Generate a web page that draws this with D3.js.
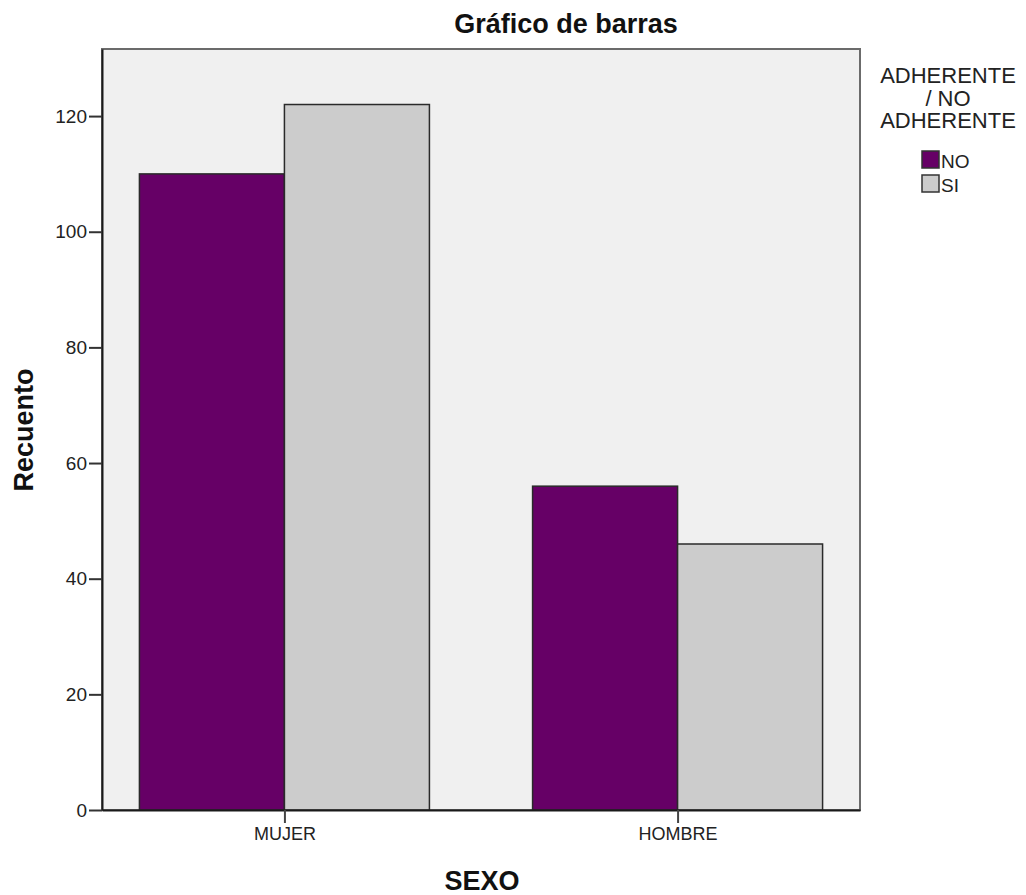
<!DOCTYPE html>
<html><head><meta charset="utf-8">
<script src="https://cdn.jsdelivr.net/npm/d3@7"></script>
<style>body{margin:0;background:#fff}svg{display:block}text{font-family:"Liberation Sans",Arial,sans-serif}</style>
</head><body>
<script>
const categories = ["MUJER", "HOMBRE"];
const seriesNames = ["NO", "SI"];
const valuesNO = [110, 56];
const valuesSI = [122, 46];
const yTicks = [0, 20, 40, 60, 80, 100, 120];
const seriesColors = ["#660066", "#cccccc"];
const legendTitle = ["ADHERENTE", "/ NO", "ADHERENTE"];

const W = 1026, H = 895;
const plot = {l: 102, r: 860, t: 49, b: 810};
const svg = d3.select("body").append("svg").attr("width", W).attr("height", H);

const x = d3.scalePoint().domain(categories).range([plot.l, plot.r]).padding(0.464);
const xs = d3.scaleBand().domain(seriesNames).range([-145, 145]).padding(0);
const y = d3.scaleLinear().domain([0, 131.6]).range([plot.b, plot.t]);

svg.append("rect").attr("x", plot.l).attr("y", plot.t).attr("width", plot.r - plot.l).attr("height", plot.b - plot.t)
  .attr("fill", "#f0f0f0").attr("stroke", "#6b6b6b").attr("stroke-width", 2);

const data = categories.map((c, i) => ({cat: c, vals: [{s: "NO", v: valuesNO[i]}, {s: "SI", v: valuesSI[i]}]}));
const g = svg.append("g");
data.forEach(d => {
  d.vals.forEach((e, j) => {
    g.append("rect")
      .attr("x", x(d.cat) + xs(e.s)).attr("y", y(e.v))
      .attr("width", xs.bandwidth()).attr("height", y(0) - y(e.v))
      .attr("fill", seriesColors[j]).attr("stroke", "#2a2a2a").attr("stroke-width", 1.5);
  });
});

// axes
const yAxis = d3.axisLeft(y).tickValues(yTicks).tickSize(13).tickSizeOuter(0).tickPadding(2);
const ya = svg.append("g").attr("transform", `translate(${plot.l},0)`).call(yAxis);
ya.select(".domain").attr("stroke", "#1a1a1a").attr("stroke-width", 2);
ya.selectAll(".tick line").attr("stroke", "#333").attr("stroke-width", 2);
ya.selectAll(".tick text").attr("font-size", 19).attr("fill", "#222").attr("font-family", "Liberation Sans, Arial, sans-serif");

const xAxis = d3.axisBottom(x).tickSize(13).tickSizeOuter(0).tickPadding(4);
const xa = svg.append("g").attr("transform", `translate(0,${plot.b})`).call(xAxis);
xa.select(".domain").attr("stroke", "#1a1a1a").attr("stroke-width", 2);
xa.selectAll(".tick line").attr("stroke", "#444").attr("stroke-width", 2);
xa.selectAll(".tick text").attr("font-size", 18).attr("fill", "#222").attr("font-family", "Liberation Sans, Arial, sans-serif");

// titles
svg.append("text").attr("x", 566).attr("y", 33).attr("text-anchor", "middle")
  .attr("font-size", 27).attr("font-weight", "bold").attr("fill", "#111").text("Gráfico de barras");
svg.append("text").attr("x", 482).attr("y", 890).attr("text-anchor", "middle")
  .attr("font-size", 27).attr("font-weight", "bold").attr("fill", "#111").text("SEXO");
svg.append("text").attr("transform", "translate(33,430) rotate(-90)").attr("text-anchor", "middle")
  .attr("font-size", 27).attr("font-weight", "bold").attr("fill", "#111").text("Recuento");

// legend
legendTitle.forEach((t, i) => {
  svg.append("text").attr("x", 948).attr("y", 83 + i * 22.5).attr("text-anchor", "middle")
    .attr("font-size", 22).attr("fill", "#222").text(t);
});
seriesNames.forEach((s, i) => {
  svg.append("rect").attr("x", 922).attr("y", 151 + i * 24).attr("width", 17).attr("height", 17)
    .attr("fill", seriesColors[i]).attr("stroke", "#333").attr("stroke-width", 1.5);
  svg.append("text").attr("x", 941).attr("y", 168 + i * 24).attr("font-size", 19).attr("fill", "#222").text(s);
});
</script>
</body></html>
